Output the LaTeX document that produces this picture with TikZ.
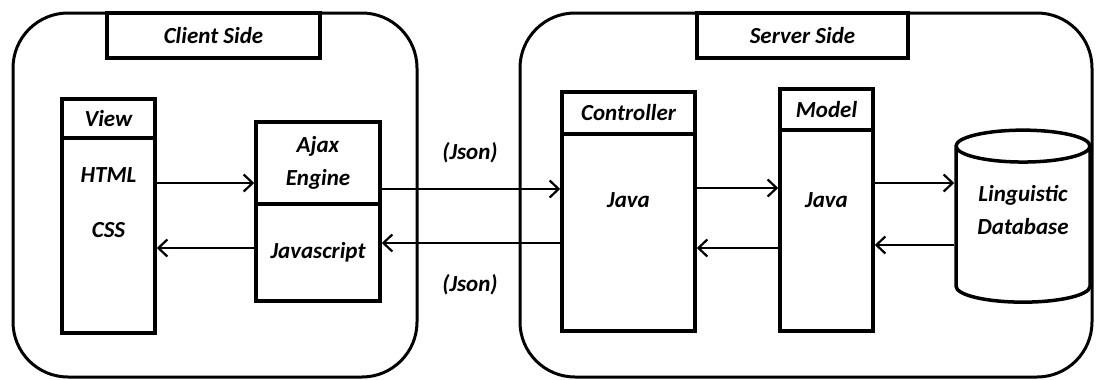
\documentclass[tikz,border=0pt]{standalone}
\usepackage{fontspec}
\setmainfont{Carlito}
\usetikzlibrary{arrows.meta,shapes.geometric}
\tikzset{>={Straight Barb[length=9pt,width=17pt]}}
\tikzset{
  side/.style={draw, line width=3pt, rounded corners=55pt, inner sep=0pt},
  tag/.style={draw, line width=3.5pt, fill=white, minimum height=45pt},
  part/.style={draw, line width=3.5pt, align=center, inner sep=0pt},
  link/.style={->, line width=2.2pt},
}

\begin{document}
\begin{tikzpicture}[x=1pt, y=-1pt, every node/.style={font=\bfseries\itshape\fontsize{23}{33}\selectfont}]
    \useasboundingbox (0,0) rectangle (1096,380);
    % the two sides
    \node[side, minimum width=404pt, minimum height=364pt] (client) at (215,195) {};
    \node[side, minimum width=572pt, minimum height=364pt] (server) at (806,195) {};
    \node[tag, minimum width=213pt] (clienttag) at (213.5,35.5) {Client Side};
    \node[tag, minimum width=211pt] (servertag) at (802.5,35.5) {Server Side};
    % client side
    \node[part, minimum width=93pt, minimum height=39pt] (viewhead) at (108.5,118.5) {View};
    \node[part, minimum width=93pt, minimum height=195pt] (viewbody) at (108.5,235.5) {};
    \node (html) at (108.5,175) {HTML};
    \node (css) at (108.5,230) {CSS};
    \node[part, minimum width=124pt, minimum height=82pt] (ajaxhead) at (318,163) {Ajax\\Engine};
    \node[part, minimum width=124pt, minimum height=97pt] (ajaxbody) at (318,252.5) {Javascript};
    % server side
    \node[part, minimum width=133pt, minimum height=42pt] (conthead) at (628.5,113) {Controller};
    \node[part, minimum width=133pt, minimum height=197pt] (contbody) at (628.5,232.5) {};
    \node (contjava) at (628.5,200) {Java};
    \node[part, minimum width=93pt, minimum height=41pt] (modelhead) at (826.5,109.5) {Model};
    \node[part, minimum width=93pt, minimum height=201pt] (modelbody) at (826.5,230.5) {};
    \node (modeljava) at (826.5,200) {Java};
    \node[part, cylinder, shape border rotate=90, aspect=0.35, text depth=30pt,
          minimum width=134pt, minimum height=172pt] (db) at (1023,225) {Linguistic\\Database};
    % messages
    \node (jsonin) at (470,153) {(Json)};
    \node (jsonout) at (470,285) {(Json)};
    \foreach \a/\b/\y in {viewbody/ajaxhead/183, ajaxhead/contbody/189, contbody/modelbody/188, modelbody/db/183}
    \draw[link] (\a.east |- 0,\y) -- (\b.west |- 0,\y);
    \foreach \a/\b/\y in {ajaxbody/viewbody/248, contbody/ajaxbody/243, modelbody/contbody/248, db/modelbody/245}
    \draw[link] (\a.west |- 0,\y) -- (\b.east |- 0,\y);
\end{tikzpicture}
\end{document}
